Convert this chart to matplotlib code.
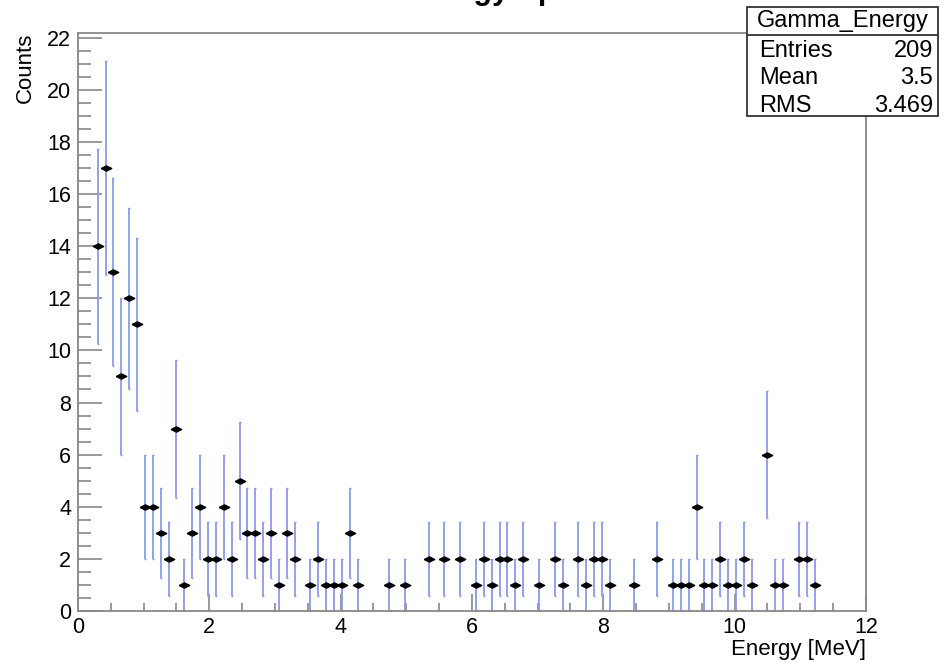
import numpy as np
import matplotlib
matplotlib.use("Agg")
from matplotlib import pyplot as plt
from matplotlib.ticker import MultipleLocator
from matplotlib.patches import Rectangle
from matplotlib.lines import Line2D

# histogram contents (non-empty bins, bin width 0.12 MeV)
energy = [0.30, 0.42, 0.54, 0.66, 0.78, 0.90, 1.02, 1.14, 1.26, 1.38, 1.50,
          1.62, 1.74, 1.86, 1.98, 2.10, 2.22, 2.34, 2.46, 2.58, 2.70, 2.82,
          2.94, 3.06, 3.18, 3.30, 3.54, 3.66, 3.78, 3.90, 4.02, 4.14, 4.26,
          4.74, 4.98, 5.34, 5.58, 5.82, 6.06, 6.18, 6.30, 6.42, 6.54, 6.66,
          6.78, 7.02, 7.26, 7.38, 7.62, 7.74, 7.86, 7.98, 8.10, 8.46, 8.82,
          9.06, 9.18, 9.30, 9.42, 9.54, 9.66, 9.78, 9.90, 10.02, 10.14, 10.26,
          10.50, 10.62, 10.74, 10.98, 11.10, 11.22]
counts = [14, 17, 13, 9, 12, 11, 4, 4, 3, 2, 7,
          1, 3, 4, 2, 2, 4, 2, 5, 3, 3, 2,
          3, 1, 3, 2, 1, 2, 1, 1, 1, 3, 1,
          1, 1, 2, 2, 2, 1, 2, 1, 2, 2, 1,
          2, 1, 2, 1, 2, 1, 2, 2, 1, 1, 2,
          1, 1, 1, 4, 1, 1, 2, 1, 1, 2, 1,
          6, 1, 1, 2, 2, 1]

stat_names = ["Entries", "Mean", "RMS"]
stat_values = ["209", "3.5", "3.469"]

plt.rcParams['font.family'] = ['Liberation Sans', 'DejaVu Sans']

W, H = 945, 663
fig = plt.figure(figsize=(W / 100, H / 100), dpi=100)
ax = fig.add_axes([78 / W, 1 - 611 / H, (866 - 78) / W, (611 - 33) / H])

y = np.array(counts, dtype=float)
marker = [(-1, 0), (0, 0.5), (1, 0), (0, -0.5), (-1, 0)]
ax.errorbar(energy, y, yerr=np.sqrt(y), fmt='none', ecolor='#8e98e6',
            elinewidth=1.3, capsize=1, capthick=1, zorder=2)
ax.plot(energy, y, linestyle='none', marker=marker, color='black',
        markersize=7.5, zorder=3)

ax.set_xlim(0, 12)
ax.set_ylim(0, 22.18)
ax.xaxis.set_major_locator(MultipleLocator(2))
ax.xaxis.set_minor_locator(MultipleLocator(0.5))
ax.yaxis.set_major_locator(MultipleLocator(2))
ax.yaxis.set_minor_locator(MultipleLocator(0.5))

for s in ax.spines.values():
    s.set_color('#888888')
    s.set_linewidth(1.3)
ax.tick_params(axis='both', which='both', direction='in', colors='#888888',
               labelcolor='black', labelsize=15.5, width=1.2)
ax.tick_params(axis='y', which='major', length=17, pad=5)
ax.tick_params(axis='y', which='minor', length=9)
ax.tick_params(axis='x', which='major', length=12, pad=4)
ax.tick_params(axis='x', which='minor', length=6)

fig.text(25 / W, 1 - 33 / H, "Counts", rotation=90, ha='center', va='top',
         fontsize=16)
fig.text(866 / W, 1 - 650 / H, "Energy [MeV]", ha='right', va='center',
         fontsize=16)
# title sits mostly above the top edge, as in the original
fig.text(472 / W, 1 + 1 / H, "Gamma Energy Spectrum", ha='center',
         va='baseline', fontsize=22, fontweight='bold')

# stats box
bx0, bx1, by0, by1 = 747, 938, 7, 116
fig.patches.append(Rectangle((bx0 / W, 1 - by1 / H), (bx1 - bx0) / W,
                             (by1 - by0) / H, transform=fig.transFigure,
                             facecolor='white', edgecolor='#333333',
                             linewidth=1.3, zorder=5))
fig.lines.append(Line2D([bx0 / W, bx1 / W], [1 - 35 / H, 1 - 35 / H],
                        transform=fig.transFigure, color='#333333',
                        linewidth=1.3, zorder=6))
fig.text((bx0 + bx1) / 2 / W, 1 - 21 / H, "Gamma_Energy", ha='center',
         va='center', fontsize=17, zorder=7)
for i, (name, val) in enumerate(zip(stat_names, stat_values)):
    yy = 1 - (51 + 27.5 * i) / H
    fig.text(759 / W, yy, name, ha='left', va='center', fontsize=17, zorder=7)
    fig.text(933 / W, yy, val, ha='right', va='center', fontsize=17, zorder=7)

fig.savefig("out.png", dpi=100)
